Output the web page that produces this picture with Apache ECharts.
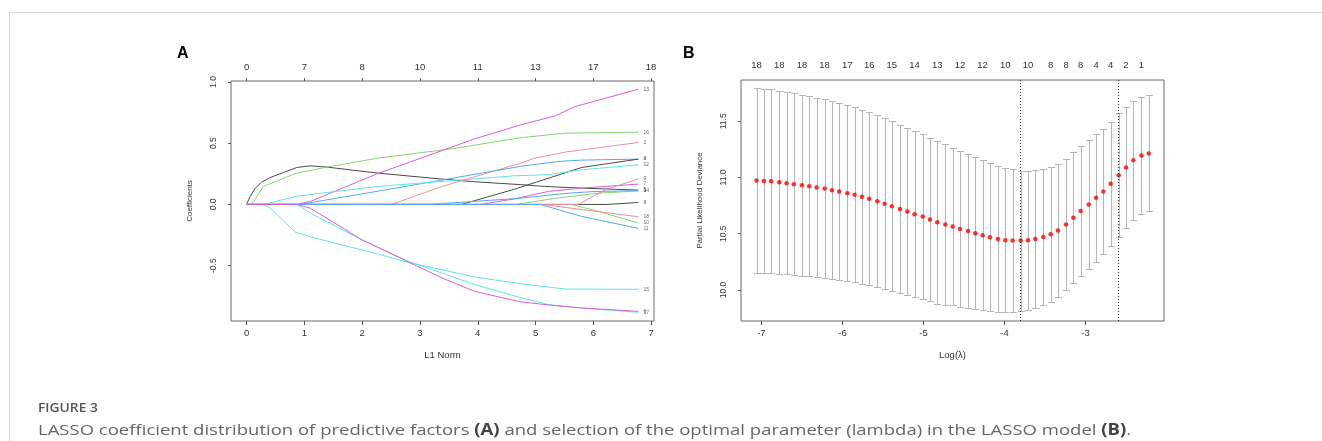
<!DOCTYPE html>
<html>
<head>
<meta charset="utf-8">
<title>Figure 3</title>
<script src="https://cdn.jsdelivr.net/npm/echarts@6/dist/echarts.min.js"></script>
<style>
    body { margin: 0; background: #fff; }
    #frame {
        position: absolute; left: 9px; top: 12px; width: 1320px; height: 440px;
        border-top: 1px solid #d4d4d4; border-left: 1px solid #d4d4d4;
    }
    #chart { position: absolute; left: 0; top: 0; width: 1322px; height: 441px; }
    .fig {
        position: absolute; left: 38px; top: 399px; font: 600 12px 'Open Sans'; color: #555;
        transform: scaleX(1.15); transform-origin: left top;
    }
    .caption {
        position: absolute; left: 38px; top: 419px; font: 15.3px 'Open Sans'; color: #666; white-space: nowrap;
        transform: scaleX(1.21); transform-origin: left top;
    }
    .caption b { color: #444; }
</style>
</head>
<body>
<div id="frame"></div>
<div id="chart"></div>
<div class="fig">FIGURE 3</div>
<div class="caption">LASSO coefficient distribution of predictive factors <b>(A)</b> and selection of the optimal parameter (lambda) in the LASSO model <b>(B)</b>.</div>

<script>
// ---- panel A: coefficient paths, [L1 norm, coefficient] ----
const l1Ticks = [0, 1, 2, 3, 4, 5, 6, 7];
const l1TopLabels = ['0', '7', '8', '10', '11', '13', '17', '18'];
const coefTicks = [-0.5, 0, 0.5, 1];

const pathLabels = ['5', '16', '13', '2', '4', '1', '12', '7', '3', '15', '17', '8', '10', '14', '18', '9', '11', '6'];
const pathGroups = ['black', 'green', 'magenta', 'red', 'blue', 'black', 'cyan', 'magenta', 'green',
    'cyan', 'cyan', 'black', 'green', 'blue', 'red', 'red', 'blue', 'magenta'];
const coefPaths = [
    [[0, 0], [0.06, 0.065], [0.15, 0.133], [0.26, 0.182], [0.41, 0.22], [0.64, 0.261], [0.87, 0.302], [1.1, 0.315],
        [1.39, 0.305], [2.27, 0.256], [3.38, 0.207], [3.95, 0.185], [4.73, 0.162], [5.16, 0.147], [5.8, 0.133], [6.78, 0.117]],
    [[0, 0], [0.09, 0], [0.29, 0.147], [0.87, 0.256], [1.39, 0.305], [2.27, 0.378], [3.55, 0.454], [4.73, 0.544], [5.51, 0.582], [6.78, 0.59]],
    [[0, 0], [0.87, 0], [1.1, 0.024], [2.27, 0.252], [3.95, 0.536], [4.73, 0.648], [5.34, 0.723], [5.68, 0.799], [6.78, 0.941]],
    [[0, 0], [2.51, 0], [3.38, 0.147], [4.73, 0.335], [4.99, 0.378], [5.51, 0.427], [6.78, 0.506]],
    [[0, 0], [0.92, 0], [2.27, 0.108], [4.73, 0.31], [5.39, 0.351], [5.8, 0.362], [6.78, 0.37]],
    [[0, 0], [3.72, 0], [4.64, 0.125], [5.8, 0.302], [6.78, 0.37]],
    [[0, 0], [0.29, 0], [0.87, 0.068], [2.27, 0.147], [4.64, 0.234], [5.22, 0.243], [5.8, 0.283], [6.78, 0.324]],
    [[0, 0], [4.05, 0], [4.64, 0.046], [5.22, 0.106], [5.8, 0.133], [6.78, 0.166]],
    [[0, 0], [4.67, 0], [5.34, 0.05], [6.09, 0.092], [6.78, 0.11]],
    [[0, 0], [0.29, 0], [0.41, -0.03], [0.84, -0.226], [1.1, -0.264], [2.27, -0.405], [2.8, -0.473], [3.95, -0.593],
        [4.73, -0.647], [5.51, -0.691], [6.78, -0.693]],
    [[0, 0], [0.87, 0], [1.1, -0.07], [2.0, -0.29], [2.8, -0.465], [3.95, -0.655], [4.73, -0.76], [5.22, -0.818], [5.8, -0.846], [6.78, -0.881]],
    [[0, 0], [6.25, 0], [6.78, 0.016]],
    [[0, 0], [5.62, 0], [6.09, -0.057], [6.78, -0.152]],
    [[0, 0], [3.15, 0], [4.73, 0.05], [5.51, 0.09], [6.0, 0.105], [6.78, 0.113]],
    [[0, 0], [5.11, 0], [5.74, -0.038], [6.78, -0.101]],
    [[0, 0], [5.74, 0], [6.2, 0.118], [6.78, 0.209]],
    [[0, 0], [5.08, 0], [5.8, -0.098], [6.78, -0.196]],
    [[0, 0], [0.87, 0], [1.1, -0.03], [2.0, -0.29], [3.38, -0.6], [3.95, -0.71], [4.73, -0.795], [5.34, -0.827], [5.8, -0.846], [6.78, -0.873]]
];

// ---- panel B: cross-validation curve ----
const logLambda = [-7.06, -6.97, -6.88, -6.78, -6.69, -6.60, -6.50, -6.41, -6.32, -6.22, -6.13, -6.04, -5.94,
    -5.85, -5.76, -5.67, -5.57, -5.48, -5.39, -5.29, -5.20, -5.11, -5.01, -4.92, -4.83, -4.73, -4.64,
    -4.55, -4.45, -4.36, -4.27, -4.18, -4.08, -3.99, -3.90, -3.80, -3.71, -3.62, -3.52, -3.43, -3.34,
    -3.24, -3.15, -3.06, -2.96, -2.87, -2.78, -2.69, -2.59, -2.50, -2.41, -2.31, -2.22];
const cvm = [10.973, 10.970, 10.967, 10.958, 10.950, 10.941, 10.932, 10.923, 10.911, 10.902, 10.887, 10.875, 10.861,
    10.846, 10.828, 10.810, 10.789, 10.766, 10.745, 10.721, 10.697, 10.674, 10.653, 10.626, 10.602, 10.582, 10.564,
    10.543, 10.525, 10.504, 10.487, 10.469, 10.454, 10.442, 10.439, 10.439, 10.442, 10.454, 10.472, 10.496, 10.528,
    10.582, 10.641, 10.703, 10.760, 10.819, 10.875, 10.944, 11.021, 11.089, 11.154, 11.196, 11.214];
const cvsd = [0.819, 0.819, 0.816, 0.813, 0.810, 0.809, 0.806, 0.801, 0.797, 0.795, 0.791, 0.786, 0.782,
    0.779, 0.774, 0.770, 0.766, 0.761, 0.754, 0.749, 0.746, 0.740, 0.731, 0.728, 0.723, 0.717, 0.702,
    0.691, 0.684, 0.677, 0.668, 0.659, 0.651, 0.642, 0.635, 0.623, 0.616, 0.611, 0.607, 0.601, 0.593,
    0.586, 0.583, 0.576, 0.576, 0.570, 0.559, 0.553, 0.549, 0.539, 0.528, 0.522, 0.516];
const nzeroIdx = [0, 3, 6, 9, 12, 15, 18, 21, 24, 27, 30, 33, 36, 39, 41, 43, 45, 47, 49, 51];
const nzeroLabels = ['18', '18', '18', '18', '17', '16', '15', '14', '13', '12', '12', '10', '10', '8', '8', '8', '4', '4', '2', '1'];
const lambdaMinIdx = 35;
const lambda1seIdx = 48;
const logTicks = [-7, -6, -5, -4, -3];
const devTicks = [10, 10.5, 11, 11.5];

const colors = {
    black: '#4a4a4a', red: '#ea8fa0', green: '#86d576',
    blue: '#55a8ec', cyan: '#62e3e4', magenta: '#d85fd3'
};
const tickFont = 'Liberation Sans';
const nzeroPos = nzeroIdx.map(i => logLambda[i]);

const chart = echarts.init(document.getElementById('chart'));

const lineSeries = coefPaths.map((p, i) => ({
    type: 'line',
    xAxisIndex: 0,
    yAxisIndex: 0,
    data: p,
    symbol: 'none',
    silent: true,
    lineStyle: { width: 1, color: colors[pathGroups[i]] },
    endLabel: { show: true, formatter: pathLabels[i], fontSize: 5, color: '#666', distance: 5 },
    z: 2 + i
}));

function bottomAxis(grid, min, max, ticks, name) {
    return {
        gridIndex: grid, type: 'value', position: 'bottom', min: min, max: max,
        axisLine: { show: false, onZero: false },
        axisTick: { show: true, customValues: ticks, length: 4, lineStyle: { color: '#555' } },
        axisLabel: { customValues: ticks, fontSize: 9.5, color: '#333', margin: 7, fontFamily: tickFont },
        splitLine: { show: false },
        name: name, nameLocation: 'middle', nameGap: 29,
        nameTextStyle: { fontSize: 9.5, color: '#333', fontFamily: tickFont }
    };
}

function leftAxis(grid, min, max, ticks, name) {
    return {
        gridIndex: grid, type: 'value', position: 'left', min: min, max: max,
        axisLine: { show: false, onZero: false },
        axisTick: { show: true, customValues: ticks, length: 3, lineStyle: { color: '#555' } },
        axisLabel: {
            customValues: ticks, rotate: 90, fontSize: 8.5, color: '#333', margin: 13, fontFamily: tickFont,
            formatter: v => v.toFixed(1)
        },
        splitLine: { show: false },
        name: name, nameLocation: 'middle', nameGap: 37,
        nameTextStyle: { fontSize: 8, color: '#333', fontFamily: tickFont }
    };
}

chart.setOption({
    animation: false,
    textStyle: { fontFamily: tickFont },
    grid: [
        { left: 231, top: 81, width: 423, height: 240, show: true, borderColor: '#6a6a6a', borderWidth: 1 },
        { left: 741, top: 80, width: 423, height: 241, show: true, borderColor: '#6a6a6a', borderWidth: 1 }
    ],
    graphic: [
        { type: 'text', left: 177, top: 46, style: { text: 'A', font: 'bold 16px Liberation Sans', fill: '#000' } },
        { type: 'text', left: 683, top: 46, style: { text: 'B', font: 'bold 16px Liberation Sans', fill: '#000' } }
    ],
    xAxis: [
        bottomAxis(0, -0.27, 7.05, l1Ticks, 'L1 Norm'),
        {
            gridIndex: 0, type: 'value', position: 'top', min: -0.27, max: 7.05,
            axisLine: { show: false, onZero: false },
            axisTick: { show: true, customValues: l1Ticks, length: 3, lineStyle: { color: '#555' } },
            axisLabel: {
                customValues: l1Ticks, fontSize: 9.5, color: '#333', margin: 9, fontFamily: tickFont,
                formatter: v => l1TopLabels[l1Ticks.indexOf(Math.round(v))]
            },
            splitLine: { show: false }
        },
        bottomAxis(1, -7.252, -2.031, logTicks, 'Log(λ)'),
        {
            gridIndex: 1, type: 'value', position: 'top', min: -7.252, max: -2.031,
            axisLine: { show: false, onZero: false },
            axisTick: { show: false },
            axisLabel: {
                customValues: nzeroPos, fontSize: 9.5, color: '#333', margin: 10, fontFamily: tickFont,
                formatter: v => {
                    const k = nzeroPos.findIndex(p => Math.abs(p - v) < 1e-6);
                    return k < 0 ? '' : nzeroLabels[k];
                }
            },
            splitLine: { show: false }
        }
    ],
    yAxis: [
        leftAxis(0, -0.952, 1.008, coefTicks, 'Coefficients'),
        leftAxis(1, 9.724, 11.867, devTicks, 'Partial Likelihood Deviance')
    ],
    series: lineSeries.concat([
        {
            type: 'custom',
            xAxisIndex: 2,
            yAxisIndex: 1,
            silent: true,
            encode: { x: 0, y: [1, 2] },
            data: logLambda.map((x, i) => [x, cvm[i] - cvsd[i], cvm[i] + cvsd[i]]),
            renderItem: (params, api) => {
                const x = api.value(0);
                const lo = api.coord([x, api.value(1)]);
                const hi = api.coord([x, api.value(2)]);
                const px = Math.round(lo[0]) + 0.5;
                const yl = Math.round(lo[1]) + 0.5;
                const yh = Math.round(hi[1]) + 0.5;
                const st = { stroke: '#b5b5b5', lineWidth: 1 };
                return {
                    type: 'group',
                    children: [
                        { type: 'line', shape: { x1: px, y1: yh, x2: px, y2: yl }, style: st },
                        { type: 'line', shape: { x1: px - 3.5, y1: yh, x2: px + 3.5, y2: yh }, style: st },
                        { type: 'line', shape: { x1: px - 3.5, y1: yl, x2: px + 3.5, y2: yl }, style: st }
                    ]
                };
            },
            z: 2
        },
        {
            type: 'scatter',
            xAxisIndex: 2,
            yAxisIndex: 1,
            silent: true,
            data: logLambda.map((x, i) => [x, cvm[i]]),
            symbolSize: 4.5,
            itemStyle: { color: '#ff0000' },
            markLine: {
                silent: true,
                symbol: 'none',
                label: { show: false },
                lineStyle: { type: [1, 2], color: '#333', width: 1 },
                data: [{ xAxis: logLambda[lambdaMinIdx] }, { xAxis: logLambda[lambda1seIdx] }]
            },
            z: 4
        }
    ])
});
</script>
</body>
</html>
